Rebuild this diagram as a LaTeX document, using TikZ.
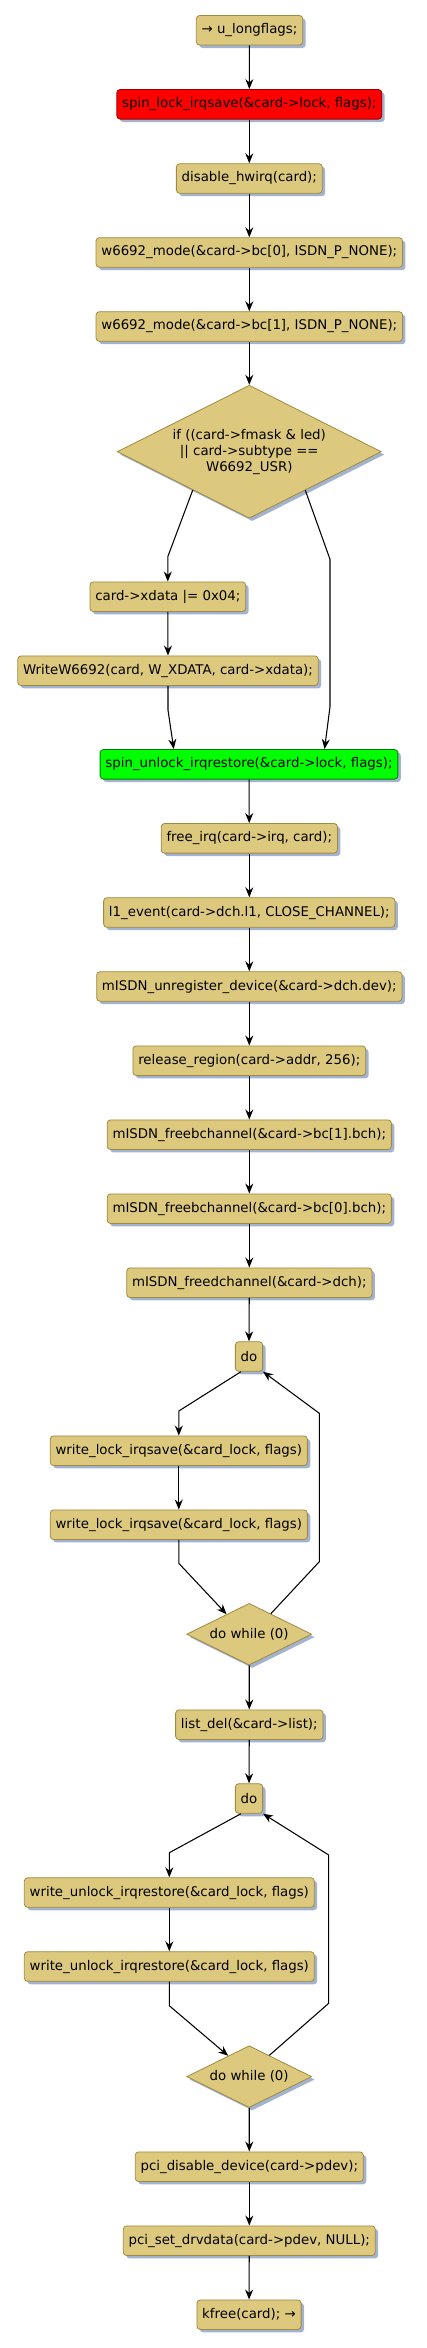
\documentclass[tikz,border=0pt]{standalone}
\usepackage{fontspec}
\setmainfont{DejaVu Sans}
\usetikzlibrary{shapes.geometric, arrows.meta, calc, shadows}
\definecolor{actfill}{RGB}{221,201,125}
\definecolor{actline}{RGB}{160,138,64}
\definecolor{shadowblue}{RGB}{163,178,206}
\tikzset{
    act/.style={rectangle, rounded corners=2.5pt, draw=actline, fill=actfill, line width=0.6pt,
        minimum height=22.2pt, inner xsep=4pt, inner ysep=1pt,
        drop shadow={shadow xshift=2.2pt, shadow yshift=-2.2pt, fill=shadowblue, opacity=1}},
    cond/.style={diamond, aspect=2, draw=actline, fill=actfill, line width=0.6pt, inner sep=0pt, align=center,
        drop shadow={shadow xshift=2.2pt, shadow yshift=-2.2pt, fill=shadowblue, opacity=1}},
    flow/.style={line width=0.8pt, -{Stealth[length=7.5pt, width=6pt, inset=2.5pt]}}
}
\begin{document}
\begin{tikzpicture}[x=0.75pt, y=-0.75pt, font=\fontsize{10}{11.9}\selectfont]
    \useasboundingbox (0,0) rectangle (426,2348);
    % Lock and mode reset
    \node[act] (start) at (249.5,30.3) {→ u\_longflags;};
    \node[act, fill=red, draw=red!60!black] (lock) at (249.3,104.3) {spin\_lock\_irqsave(\&card->lock, flags);};
    \node[act] (hwirq) at (249.3,178.5) {disable\_hwirq(card);};
    \node[act] (modea) at (249.3,252.5) {w6692\_mode(\&card->bc[0], ISDN\_P\_NONE);};
    \node[act] (modeb) at (249.3,326.5) {w6692\_mode(\&card->bc[1], ISDN\_P\_NONE);};
    % Led condition
    \node[cond, minimum width=198pt, minimum height=99.75pt] (dia) at (249.3,451.7)
        {if ((card->fmask \& led)\\|| card->subtype ==\\W6692\_USR)};
    \node[act] (xdata) at (167.8,596.7) {card->xdata |= 0x04;};
    \node[act] (wxdata) at (168,670.7) {WriteW6692(card, W\_XDATA, card->xdata);};
    \node[act, fill=green, draw=green!50!black] (unlock) at (249,764.3) {spin\_unlock\_irqrestore(\&card->lock, flags);};
    % Release resources
    \node[act] (freeirq) at (249.3,838.3) {free\_irq(card->irq, card);};
    \node[act] (lonevent) at (249.3,912.5) {l1\_event(card->dch.l1, CLOSE\_CHANNEL);};
    \node[act] (unreg) at (249.3,986.5) {mISDN\_unregister\_device(\&card->dch.dev);};
    \node[act] (release) at (249.3,1060.7) {release\_region(card->addr, 256);};
    \node[act] (freebb) at (249.3,1134.7) {mISDN\_freebchannel(\&card->bc[1].bch);};
    \node[act] (freeba) at (249.3,1208.7) {mISDN\_freebchannel(\&card->bc[0].bch);};
    \node[act] (freed) at (249.3,1282.7) {mISDN\_freedchannel(\&card->dch);};
    % First do-while
    \node[act] (doa) at (249,1356.5) {do};
    \node[act] (wla) at (178.8,1450.7) {write\_lock\_irqsave(\&card\_lock, flags)};
    \node[act] (wlb) at (178.8,1524.7) {write\_lock\_irqsave(\&card\_lock, flags)};
    \node[cond, minimum width=93.75pt, minimum height=46.3pt] (dwa) at (249.2,1634.2) {do while (0)};
    \node[act] (listdel) at (249.3,1724.7) {list\_del(\&card->list);};
    % Second do-while
    \node[act] (dob) at (249,1798.5) {do};
    \node[act] (wua) at (169.3,1892.5) {write\_unlock\_irqrestore(\&card\_lock, flags)};
    \node[act] (wub) at (169.3,1966.5) {write\_unlock\_irqrestore(\&card\_lock, flags)};
    \node[cond, minimum width=93.75pt, minimum height=46.3pt] (dwb) at (249.2,2076.6) {do while (0)};
    \node[act] (pcidis) at (249.3,2166.7) {pci\_disable\_device(card->pdev);};
    \node[act] (pciset) at (249.3,2240.7) {pci\_set\_drvdata(card->pdev, NULL);};
    \node[act] (kfree) at (249,2314.7) {kfree(card); →};
    % Straight arrows
    \foreach \a/\b in {start/lock, lock/hwirq, hwirq/modea, modea/modeb, modeb/dia, xdata/wxdata,
        unlock/freeirq, freeirq/lonevent, lonevent/unreg, unreg/release, release/freebb,
        freebb/freeba, freeba/freed, freed/doa, wla/wlb, dwa/listdel, listdel/dob, wua/wub,
        dwb/pcidis, pcidis/pciset, pciset/kfree}
        \draw[flow] (\a) -- (\b);
    % Branches of the condition
    \draw[flow] ($(dia.west)!0.573!(dia.south)$) -- (167.8,556.7) -- (xdata.north);
    \draw[flow] ($(dia.south)!0.423!(dia.east)$) -- (330,559.3) -- (330,706.7)
        -- ($(unlock.north west)!0.753!(unlock.north east)$);
    \draw[flow] (wxdata.south) -- (168,710) -- ($(unlock.north west)!0.248!(unlock.north east)$);
    % Loop one
    \draw[flow] ($(doa.south west)+(6,0)$) -- (178.8,1411) -- (wla.north);
    \draw[flow] (wlb.south) -- (178.8,1563.3) -- ($(dwa.west)!0.64!(dwa.north)$);
    \draw[flow] ($(dwa.north)!0.344!(dwa.east)$) -- (319.3,1561.7) -- (319.3,1413.3) -- (doa.south east);
    % Loop two
    \draw[flow] ($(dob.south west)+(6,0)$) -- (169.3,1852.7) -- (wua.north);
    \draw[flow] (wub.south) -- (169.3,2005.7) -- ($(dwb.west)!0.666!(dwb.north)$);
    \draw[flow] ($(dwb.north)!0.32!(dwb.east)$) -- (328.7,2003.3) -- (328.7,1855) -- (dob.south east);
\end{tikzpicture}
\end{document}
